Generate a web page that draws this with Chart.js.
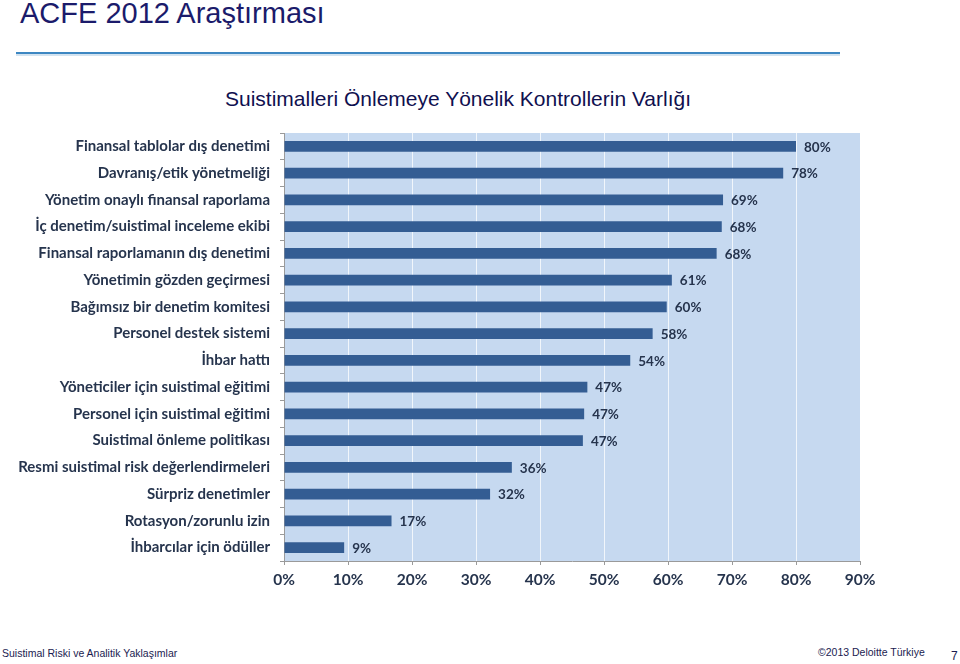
<!DOCTYPE html>
<html>
<head>
<meta charset="utf-8">
<script src="https://cdn.jsdelivr.net/npm/chart.js@4.4.0/dist/chart.umd.min.js"></script>
<style>
  html, body { margin: 0; padding: 0; background: #fff; }
  body { width: 960px; height: 664px; position: relative; overflow: hidden; font-family: "Liberation Sans", Arial, sans-serif; }
  #pageTitle { position: absolute; left: 20px; top: -3px; font-size: 29px; color: #1b1b6b; }
  #rule1 { position: absolute; left: 16px; top: 52px; width: 824px; height: 2px; background: #3d87c2; }
  #rule2 { position: absolute; left: 16px; top: 54px; width: 824px; height: 2px; background: #d3e3f0; }
  #chartTitle { position: absolute; left: 0; width: 916px; top: 87px; text-align: center; font-size: 21px; color: #10104f; }
  #wrap { position: absolute; left: 0; top: 114px; width: 960px; height: 486px; }
  .foot { position: absolute; font-size: 10.5px; color: #1b1b50; }
</style>
</head>
<body>
<div id="pageTitle">ACFE 2012 Araştırması</div>
<div id="rule1"></div>
<div id="rule2"></div>
<div id="chartTitle">Suistimalleri Önlemeye Yönelik Kontrollerin Varlığı</div>
<div id="wrap"><canvas id="chart"></canvas></div>
<div class="foot" style="left:2px; top:647px;">Suistimal Riski ve Analitik Yaklaşımlar</div>
<div class="foot" style="left:818px; top:646px;">©2013 Deloitte Türkiye</div>
<div class="foot" style="left:951px; top:649px; font-size:12px;">7</div>

<script>
// categories, top to bottom
const controls = [
  "Finansal tablolar dış denetimi",
  "Davranış/etik yönetmeliği",
  "Yönetim onaylı finansal raporlama",
  "İç denetim/suistimal inceleme ekibi",
  "Finansal raporlamanın dış denetimi",
  "Yönetimin gözden geçirmesi",
  "Bağımsız bir denetim komitesi",
  "Personel destek sistemi",
  "İhbar hattı",
  "Yöneticiler için suistimal eğitimi",
  "Personel için suistimal eğitimi",
  "Suistimal önleme politikası",
  "Resmi suistimal risk değerlendirmeleri",
  "Sürpriz denetimler",
  "Rotasyon/zorunlu izin",
  "İhbarcılar için ödüller"
];

// percent of organisations with the control
const shares = [80, 78, 68.6, 68.4, 67.6, 60.6, 59.8, 57.6, 54.1, 47.4, 46.9, 46.7, 35.6, 32.2, 16.8, 9.4];

const xTicks = [0, 10, 20, 30, 40, 50, 60, 70, 80, 90];

const labelFont = "Lato, 'Noto Sans', sans-serif";
const textColor = "#26344d";

// light blue plot area
const plotBg = {
  id: "plotBg",
  beforeDraw(chart) {
    const a = chart.chartArea;
    const ctx = chart.ctx;
    ctx.save();
    ctx.fillStyle = "#c6d9f0";
    ctx.fillRect(a.left, a.top, a.right - a.left, a.bottom - a.top);
    ctx.restore();
  }
};

// value labels at the end of each bar
const barLabels = {
  id: "barLabels",
  afterDatasetsDraw(chart) {
    const ctx = chart.ctx;
    const meta = chart.getDatasetMeta(0);
    ctx.save();
    ctx.font = "bold 13.5px " + labelFont;
    ctx.fillStyle = textColor;
    ctx.textAlign = "left";
    ctx.textBaseline = "middle";
    meta.data.forEach((bar, i) => {
      ctx.fillText(Math.round(shares[i]) + "%", bar.x + 8, bar.y + 1);
    });
    ctx.restore();
  }
};

const ctx = document.getElementById("chart").getContext("2d");
new Chart(ctx, {
  type: "bar",
  data: {
    labels: controls,
    datasets: [{
      data: shares,
      backgroundColor: "#345d93",
      barPercentage: 0.4,
      categoryPercentage: 1
    }]
  },
  plugins: [plotBg, barLabels],
  options: {
    indexAxis: "y",
    responsive: true,
    maintainAspectRatio: false,
    animation: false,
    layout: { padding: { top: 5, right: 100, bottom: 0, left: 0 } },
    plugins: {
      legend: { display: false },
      tooltip: { enabled: false }
    },
    scales: {
      x: {
        min: 0,
        max: 90,
        afterBuildTicks(scale) {
          scale.ticks = xTicks.map(v => ({ value: v }));
        },
        afterFit(scale) { scale.height = 39; },
        grid: {
          color: "rgba(255,255,255,0.75)",
          tickColor: "#9a9a9a",
          tickLength: 4
        },
        border: { color: "#9a9a9a" },
        ticks: {
          padding: 6,
          color: textColor,
          font: { family: labelFont, size: 15.5, weight: "bold" },
          callback: v => v + "%"
        }
      },
      y: {
        afterFit(scale) { scale.width = 284; },
        grid: {
          drawOnChartArea: false,
          offset: true,
          tickColor: "#9a9a9a",
          tickLength: 4
        },
        border: { color: "#9a9a9a" },
        ticks: {
          padding: 10,
          autoSkip: false,
          color: textColor,
          font: { family: labelFont, size: 15, weight: "bold" }
        }
      }
    }
  }
});
</script>
</body>
</html>
